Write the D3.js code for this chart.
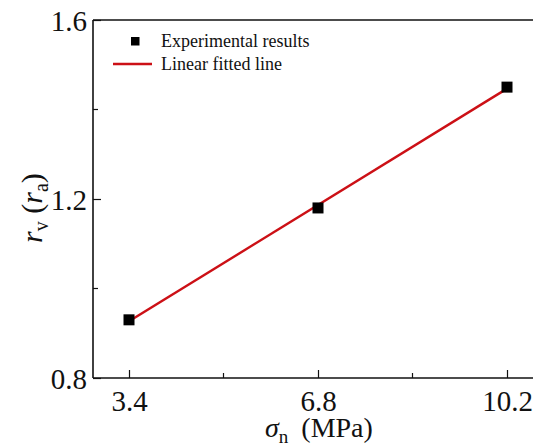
<!DOCTYPE html>
<html>
<head>
<meta charset="utf-8">
<script src="https://cdn.jsdelivr.net/npm/d3@7"></script>
<style>
  html, body { margin: 0; padding: 0; background: #fff; }
</style>
</head>
<body>
<svg id="chart" width="533" height="448"></svg>
<script>
// Normal stress levels (MPa) and measured ratio values
const stress = [3.4, 6.8, 10.2];
const ratio = [0.93, 1.18, 1.45];
const xTicks = [3.4, 6.8, 10.2];
const xMinor = [5.1, 8.5];
const yTicks = [0.8, 1.2, 1.6];
const yMinor = [1.0, 1.4];

const serif = "'Liberation Serif', 'Times New Roman', serif";
const ink = "#111";
const red = "#cc1016";

const svg = d3.select("#chart");
const plotL = 93, plotR = 540, plotT = 20, plotB = 378;

// x scale: 3.4 sits 36px right of the left axis, 10.2 sits near the right edge
const pxPerUnit = (507 - 129) / 6.8;
const x = d3.scaleLinear()
  .domain([3.4 - (129 - plotL) / pxPerUnit, 3.4 + (plotR - 129) / pxPerUnit])
  .range([plotL, plotR]);
const y = d3.scaleLinear().domain([0.8, 1.6]).range([plotB, plotT]);

// least-squares fit through the measured points
const mx = d3.mean(stress), my = d3.mean(ratio);
const slope = d3.sum(stress, (d, i) => (d - mx) * (ratio[i] - my)) / d3.sum(stress, d => (d - mx) ** 2);
const intercept = my - slope * mx;
const fit = [stress[0], stress[stress.length - 1]].map(s => [s, intercept + slope * s]);

// top frame line
svg.append("line").attr("x1", plotL).attr("x2", plotR).attr("y1", plotT).attr("y2", plotT)
  .attr("stroke", ink).attr("stroke-width", 1.6);

// axes with inward ticks
const xAxis = svg.append("g").attr("transform", `translate(0,${plotB})`)
  .call(d3.axisBottom(x).tickValues(xTicks).tickSize(-8).tickPadding(12).tickFormat(d3.format(".1f")));
xAxis.append("g").selectAll("line").data(xMinor).join("line")
  .attr("x1", d => x(d)).attr("x2", d => x(d)).attr("y1", 0).attr("y2", -5)
  .attr("stroke", ink).attr("stroke-width", 1.2);

const yAxis = svg.append("g").attr("transform", `translate(${plotL},0)`)
  .call(d3.axisLeft(y).tickValues(yTicks).tickSize(-8).tickPadding(6).tickFormat(d3.format(".1f")));
yAxis.append("g").selectAll("line").data(yMinor).join("line")
  .attr("x1", 0).attr("x2", 5).attr("y1", d => y(d)).attr("y2", d => y(d))
  .attr("stroke", ink).attr("stroke-width", 1.2);

[xAxis, yAxis].forEach(g => {
  g.attr("font-family", serif);
  g.select(".domain").attr("stroke", ink).attr("stroke-width", 1.6);
  g.selectAll(".tick line").attr("stroke", ink).attr("stroke-width", 1.2);
  g.selectAll(".tick text").attr("font-size", 29).attr("font-family", serif).attr("fill", ink);
});
xAxis.selectAll(".tick text").attr("dy", "0.71em");
yAxis.selectAll(".tick text").attr("dy", "0.36em");
xAxis.select(".domain").attr("d", `M${plotL},0H${plotR}`);
yAxis.select(".domain").attr("d", `M0,${plotB}V${plotT}`);

// fitted line
svg.append("path")
  .attr("d", d3.line().x(d => x(d[0])).y(d => y(d[1]))(fit))
  .attr("stroke", red).attr("stroke-width", 2.4).attr("fill", "none");

// measured points
const sq = 11;
svg.append("g").selectAll("rect").data(stress).join("rect")
  .attr("x", d => x(d) - sq / 2).attr("y", (d, i) => y(ratio[i]) - sq / 2)
  .attr("width", sq).attr("height", sq).attr("fill", "#000");

// legend
const lg = svg.append("g").attr("font-family", serif).attr("fill", ink);
lg.append("rect").attr("x", 131).attr("y", 37).attr("width", 8.5).attr("height", 8.5).attr("fill", "#000");
lg.append("text").attr("x", 161).attr("y", 47).attr("font-size", 18).attr("font-family", serif).text("Experimental results");
lg.append("line").attr("x1", 113).attr("x2", 152).attr("y1", 64).attr("y2", 64)
  .attr("stroke", red).attr("stroke-width", 2.4);
lg.append("text").attr("x", 161).attr("y", 70).attr("font-size", 18).attr("font-family", serif).text("Linear fitted line");

// axis titles
const xt = svg.append("text").attr("x", 265).attr("y", 437).attr("font-size", 28)
  .attr("font-family", serif).attr("fill", ink);
xt.append("tspan").attr("font-style", "italic").text("σ");
xt.append("tspan").attr("font-size", 19).attr("dy", 6).text("n");
xt.append("tspan").attr("dy", -6).attr("dx", 6).text(" (MPa)");

const yt = svg.append("text").attr("transform", "translate(42,208) rotate(-90)")
  .attr("text-anchor", "middle").attr("font-size", 30).attr("font-family", serif).attr("fill", ink);
yt.append("tspan").attr("font-style", "italic").text("r");
yt.append("tspan").attr("font-size", 20).attr("dy", 6).text("v");
yt.append("tspan").attr("dy", -6).text(" (");
yt.append("tspan").attr("font-style", "italic").text("r");
yt.append("tspan").attr("font-size", 20).attr("dy", 6).text("a");
yt.append("tspan").attr("dy", -6).text(")");
</script>
</body>
</html>
